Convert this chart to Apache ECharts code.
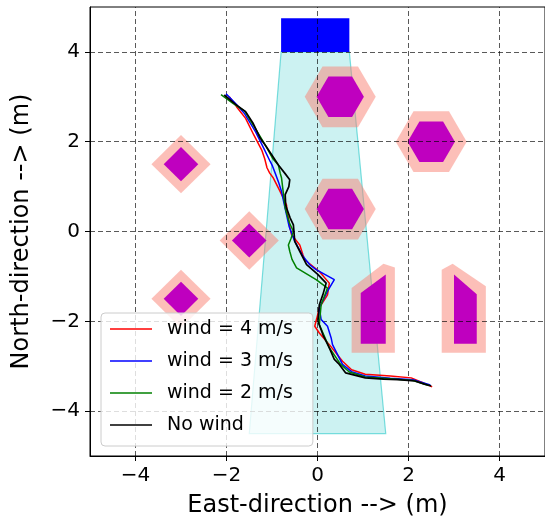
<!DOCTYPE html>
<html><head><meta charset="utf-8">
<script src="https://cdn.jsdelivr.net/npm/echarts@6/dist/echarts.min.js"></script>
<style>html,body{margin:0;padding:0;background:#fff}#c{width:545px;height:527px}</style>
</head><body><div id="c"></div>
<script>
// ---- data ----
const xTicks = [-4, -2, 0, 2, 4];
const yTicks = [-4, -2, 0, 2, 4];
const seriesNames = ['wind = 4 m/s', 'wind = 3 m/s', 'wind = 2 m/s', 'No wind'];
const seriesColors = ['#ff0000', '#0000ff', '#008000', '#000000'];

const wind4 = [[-1.94,3.0],[-1.78,2.78],[-1.58,2.52],[-1.40,2.15],[-1.22,1.80],[-1.16,1.62],[-1.11,1.42],[-1.05,1.30],[-0.97,1.19],[-0.85,0.95],[-0.75,0.74],[-0.68,0.59],[-0.67,0.45],[-0.64,0.30],[-0.61,0.10],[-0.57,-0.07],[-0.39,-0.30],[-0.32,-0.52],[-0.28,-0.63],[0.04,-0.89],[0.26,-1.15],[0.22,-1.41],[0.04,-1.70],[-0.02,-1.95],[-0.06,-2.11],[0.04,-2.26],[0.26,-2.52],[0.55,-2.89],[0.75,-3.08],[1.05,-3.18],[1.60,-3.22],[2.06,-3.26],[2.30,-3.36],[2.52,-3.46]];
const wind3 = [[-2.01,3.07],[-1.80,2.85],[-1.60,2.62],[-1.36,2.22],[-1.18,1.85],[-1.04,1.56],[-0.99,1.46],[-0.93,1.30],[-0.85,1.08],[-0.79,0.89],[-0.73,0.60],[-0.68,0.37],[-0.62,0.10],[-0.50,-0.22],[-0.32,-0.55],[-0.17,-0.74],[-0.03,-0.85],[0.37,-1.07],[0.22,-1.33],[0.04,-1.70],[0.08,-1.96],[0.22,-2.11],[0.30,-2.37],[0.33,-2.52],[0.55,-2.96],[0.75,-3.12],[1.05,-3.22],[1.60,-3.27],[2.10,-3.30],[2.48,-3.42]];
const wind2 = [[-2.12,3.05],[-1.85,2.85],[-1.60,2.68],[-1.40,2.35],[-1.15,1.93],[-0.98,1.62],[-0.86,1.48],[-0.82,1.30],[-0.79,1.19],[-0.75,0.85],[-0.71,0.52],[-0.62,0.20],[-0.53,0.00],[-0.58,-0.15],[-0.64,-0.30],[-0.61,-0.44],[-0.56,-0.62],[-0.46,-0.81],[-0.03,-1.07],[0.22,-1.26],[0.08,-1.63],[0.04,-2.07],[0.26,-2.59],[0.51,-2.96],[0.70,-3.13],[1.05,-3.24],[1.60,-3.28],[2.10,-3.32],[2.45,-3.43]];
const noWind = [[-2.05,3.04],[-1.80,2.83],[-1.58,2.67],[-1.42,2.42],[-1.26,2.08],[-1.12,1.88],[-1.00,1.70],[-0.86,1.48],[-0.72,1.30],[-0.61,1.15],[-0.63,1.00],[-0.71,0.82],[-0.70,0.60],[-0.68,0.52],[-0.60,0.30],[-0.53,0.15],[-0.50,-0.22],[-0.39,-0.44],[-0.24,-0.74],[0.00,-0.95],[0.19,-1.15],[0.12,-1.40],[0.04,-1.63],[0.01,-2.00],[0.12,-2.30],[0.26,-2.59],[0.37,-2.85],[0.48,-2.96],[0.62,-3.15],[1.05,-3.26],[1.45,-3.29],[1.77,-3.30],[2.14,-3.33],[2.35,-3.40],[2.50,-3.44]];
const trajectories = [wind4, wind3, wind2, noWind];

// obstacles / scene geometry (data units)
const cone = [[-0.8,4.0],[0.7,4.0],[1.5,-4.5],[-1.5,-4.5]];
const goalRect = [[-0.8,4.0],[0.7,4.0],[0.7,4.75],[-0.8,4.75]];
const hexCenters = [[0.5,3.0],[2.5,2.0],[0.5,0.5]];
const hexInnerR = 0.52, hexOuterR = 0.78;
const diamondCenters = [[-3.0,1.5],[-1.5,-0.2],[-3.0,-1.5]];
const diamondInnerR = 0.38, diamondOuterR = 0.65;
const quadInner = [
  [[0.95,-1.37],[1.5,-0.96],[1.5,-2.5],[0.95,-2.5]],
  [[3.0,-0.96],[3.5,-1.4],[3.5,-2.5],[3.0,-2.5]]
];
const quadOuter = [
  [[0.75,-1.26],[1.45,-0.72],[1.7,-0.8],[1.7,-2.7],[0.75,-2.7]],
  [[2.73,-0.85],[2.97,-0.72],[3.7,-1.22],[3.7,-2.7],[2.73,-2.7]]
];

// ---- geometry helpers ----
function regular(c, r, n, a0) {
  const pts = [];
  for (let k = 0; k < n; k++) {
    const a = a0 + k * 2 * Math.PI / n;
    pts.push([c[0] + r * Math.cos(a), c[1] + r * Math.sin(a)]);
  }
  return pts;
}
const outerPolys = [].concat(
  hexCenters.map(c => regular(c, hexOuterR, 6, 0)),
  diamondCenters.map(c => regular(c, diamondOuterR, 4, 0)),
  quadOuter
);
const innerPolys = [].concat(
  hexCenters.map(c => regular(c, hexInnerR, 6, 0)),
  diamondCenters.map(c => regular(c, diamondInnerR, 4, 0)),
  quadInner
);

const layers = [
  {polys: [cone], fill: 'rgba(0,191,191,0.2)', stroke: 'rgba(0,191,191,0.5)', lw: 1.2, z: 1},
  {polys: outerPolys, fill: 'rgba(250,128,114,0.5)', z: 2},
  {polys: innerPolys, fill: '#bf00bf', z: 3},
  {polys: [goalRect], fill: '#0000ff', z: 4}
];

const FONT = 'DejaVu Sans';
const fmt = v => (v < 0 ? '\u2212' + Math.abs(v) : String(v));

const chart = echarts.init(document.getElementById('c'), null, {renderer: 'canvas'});

const series = [];
layers.forEach(L => {
  series.push({
    type: 'custom', coordinateSystem: 'cartesian2d', z: L.z, silent: true, animation: false,
    data: L.polys.map((p, i) => [p[0][0], p[0][1], i]),
    encode: {x: 0, y: 1},
    renderItem: (params, api) => {
      const p = L.polys[params.dataIndex];
      return {
        type: 'polygon',
        shape: {points: p.map(v => api.coord(v))},
        style: {fill: L.fill, stroke: L.stroke || null, lineWidth: L.lw || 0}
      };
    }
  });
});
// grid lines above the patches, below the trajectories
series.push({
  type: 'line', data: [], z: 5, silent: true, animation: false,
  markLine: {
    silent: true, animation: false, symbol: ['none', 'none'], label: {show: false},
    lineStyle: {color: 'rgba(0,0,0,0.65)', type: [5, 3], width: 1},
    emphasis: {disabled: true},
    data: [].concat(xTicks.map(v => ({xAxis: v})), yTicks.map(v => ({yAxis: v})))
  }
});
trajectories.forEach((t, i) => {
  series.push({
    name: seriesNames[i], type: 'line', data: t, showSymbol: false, symbol: 'none',
    z: 10 + i, animation: false, silent: true,
    lineStyle: {color: seriesColors[i], width: i === 3 ? 1.7 : 1.5},
    itemStyle: {color: seriesColors[i]}
  });
});

chart.setOption({
  animation: false,
  backgroundColor: '#fff',
  grid: {left: 90, top: 7, width: 462, height: 449, show: true, borderColor: '#000', borderWidth: 1, backgroundColor: 'transparent'},
  xAxis: {
    type: 'value', min: -5, max: 5,
    axisLine: {show: true, onZero: false, lineStyle: {color: '#000', width: 1}},
    axisTick: {show: true, customValues: xTicks, length: 5, lineStyle: {color: '#000'}},
    axisLabel: {customValues: xTicks, fontSize: 20, color: '#000', fontFamily: FONT, margin: 10, formatter: fmt},
    splitLine: {show: false},
    name: 'East-direction --> (m)', nameLocation: 'middle', nameGap: 38,
    nameTextStyle: {fontSize: 24, color: '#000', fontFamily: FONT}
  },
  yAxis: {
    type: 'value', min: -5, max: 5,
    axisLine: {show: true, onZero: false, lineStyle: {color: '#000', width: 1}},
    axisTick: {show: true, customValues: yTicks, length: 5, lineStyle: {color: '#000'}},
    axisLabel: {customValues: yTicks, fontSize: 20, color: '#000', fontFamily: FONT, margin: 10, formatter: fmt},
    splitLine: {show: false},
    name: 'North-direction --> (m)', nameLocation: 'middle', nameGap: 56,
    nameTextStyle: {fontSize: 24, color: '#000', fontFamily: FONT}
  },
  legend: {
    data: seriesNames, orient: 'vertical', left: 101, top: 313, z: 50,
    icon: 'rect', itemWidth: 42, itemHeight: 1.5, itemGap: 12,
    padding: [6, 20, 11, 9],
    backgroundColor: 'rgba(255,255,255,0.8)', borderColor: '#cccccc', borderWidth: 1, borderRadius: 4,
    textStyle: {fontSize: 19, color: '#000', fontFamily: FONT, lineHeight: 20, padding: [0, 0, 0, 10]},
    selectedMode: false
  },
  series: series
});
</script>
</body></html>
